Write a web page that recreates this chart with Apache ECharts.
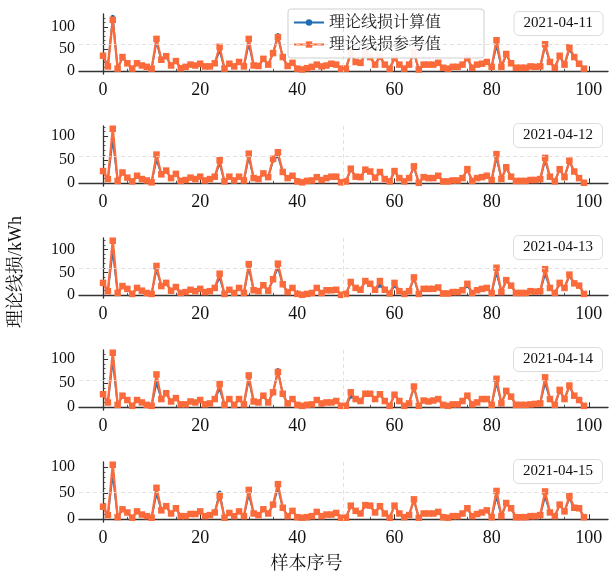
<!DOCTYPE html>
<html><head><meta charset="utf-8">
<script src="https://cdn.jsdelivr.net/npm/echarts@6/dist/echarts.min.js"></script>
<style>html,body{margin:0;padding:0;background:#fff}#c{width:613px;height:578px}</style>
</head><body><div id="c"></div>
<script>
const sampleIdx = [];
for (let i = 0; i < 100; i++) sampleIdx.push(i);
const dates = ['2021-04-11','2021-04-12','2021-04-13','2021-04-14','2021-04-15'];
const seriesNames = ['理论线损计算值','理论线损参考值'];
const xTicks = [0,20,40,60,80,100];
const xMinor = [5,10,15,25,30,35,45,50,55,65,70,75,85,90,95];
const yTicks = [0,50,100];
const yMinor = [10,20,30,40,60,70,80,90,110,120];

const calc1 = [33,12,123,6,30,18,6,17,13,10, 6,66,25,33,13,22,7,10,15,13, 17,11,11,18,46,6,17,11,20,11, 62,13,12,27,15,41,82,30,12,18, 6,4,7,10,15,11,13,17,15,6, 6,40,21,19,38,31,15,32,15,6, 29,15,6,15,41,4,15,15,15,19, 8,6,10,10,15,28,8,15,17,21, 10,58,10,37,18,8,8,8,11,10, 11,56,21,8,34,15,49,31,17,6];
const ref1  = [35,11,116,6,32,18,6,18,13,10, 6,73,26,34,13,23,7,10,15,13, 17,11,11,18,55,6,17,11,21,11, 73,13,12,28,15,41,77,32,12,19, 6,4,7,10,15,11,13,17,15,6, 6,43,21,19,39,32,15,33,15,6, 30,15,6,15,43,4,15,15,15,19, 8,6,10,10,15,30,8,15,17,21, 10,70,10,39,18,8,8,8,11,10, 11,61,21,8,35,15,54,32,17,6];
const calc2 = [25,9,93,5,22,12,4,15,9,6, 2,50,19,26,11,19,5,7,12,9, 14,6,9,14,42,4,14,6,14,6, 55,11,9,20,13,48,58,23,11,16, 4,2,5,6,13,7,11,14,14,2, 4,29,14,13,28,24,12,23,9,4, 25,11,4,11,34,1,13,11,11,16, 4,4,6,6,11,28,5,11,13,16, 7,54,9,32,14,5,5,5,7,7, 9,48,14,4,29,13,46,24,11,1];
const ref2  = [26,9,116,5,23,12,4,16,9,6, 2,61,19,27,11,20,5,7,12,9, 14,6,9,14,49,4,14,6,14,6, 63,11,9,21,13,52,66,24,11,16, 4,2,5,6,13,7,11,14,14,2, 4,31,14,13,29,25,12,24,9,4, 26,11,4,11,36,1,13,11,11,16, 4,4,6,6,11,30,5,11,13,16, 7,62,9,34,14,5,5,5,7,7, 9,54,14,4,30,13,48,25,11,1];
const calc3 = [26,9,96,5,20,14,3,16,10,5, 3,56,20,26,10,18,5,7,12,9, 14,7,9,16,38,3,12,5,16,5, 60,11,9,21,10,34,60,23,7,16, 3,1,3,5,16,5,11,11,12,1, 3,27,16,12,30,24,12,21,12,4, 20,9,3,9,37,3,14,14,14,17, 4,4,7,7,11,20,5,11,14,16, 5,49,7,31,21,5,5,5,9,8, 9,46,16,5,24,16,42,25,21,3];
const ref3  = [27,9,119,5,20,14,3,16,10,5, 3,64,20,27,10,18,5,7,12,9, 14,7,9,16,47,3,12,5,16,5, 68,11,9,22,10,35,69,24,7,16, 3,1,3,5,16,5,11,11,12,1, 3,29,16,12,31,25,12,31,12,4, 27,9,3,9,39,3,14,14,14,17, 4,4,7,7,11,25,5,11,14,16, 5,60,7,33,21,5,5,5,9,8, 9,57,16,5,27,16,45,26,21,3];
const calc4 = [26,10,96,5,23,15,3,15,10,5, 3,50,17,28,12,19,6,6,12,10, 15,6,8,17,38,5,17,5,17,6, 57,12,10,23,10,30,77,27,8,17, 5,3,5,6,15,8,10,10,13,3, 3,22,17,13,27,27,17,26,13,3, 25,13,3,8,41,3,14,12,14,17, 5,3,6,6,13,23,6,10,17,17, 5,50,8,32,22,5,5,5,6,7, 8,50,17,5,34,17,43,23,15,3];
const ref4  = [27,10,113,5,24,15,3,15,10,5, 3,68,17,29,12,19,6,6,12,10, 15,6,8,17,48,5,17,5,17,6, 66,12,10,24,10,31,73,28,8,17, 5,3,5,6,15,8,10,10,13,3, 3,31,17,13,28,28,17,27,13,3, 26,13,3,8,43,3,14,12,14,17, 5,3,6,6,13,24,6,10,17,17, 5,59,8,34,22,5,5,5,6,7, 8,62,17,5,36,17,45,24,15,3];
const calc5 = [23,8,85,4,19,13,3,15,9,6, 3,49,17,24,11,20,6,6,10,10, 15,6,8,13,51,3,12,6,15,6, 47,11,8,19,11,27,59,22,6,16, 4,3,4,6,14,6,9,9,12,3, 3,24,16,11,26,25,13,24,11,3, 25,11,4,8,36,3,11,11,11,14, 4,3,6,6,11,20,6,10,13,17, 4,43,6,29,21,4,4,4,6,6, 8,43,13,6,27,15,40,21,21,4];
const ref5  = [24,8,104,4,19,13,3,15,9,6, 3,60,17,25,11,21,6,6,10,10, 15,6,8,13,45,3,12,6,15,6, 56,11,8,19,11,28,67,22,6,16, 4,3,4,6,14,6,9,9,12,3, 3,26,16,11,27,26,13,25,11,3, 26,11,4,8,38,3,11,11,11,14, 4,3,6,6,11,21,6,10,13,17, 4,54,6,31,21,4,4,4,6,6, 8,53,13,6,28,15,44,22,21,4];

const calcAll = [calc1, calc2, calc3, calc4, calc5];
const refAll = [ref1, ref2, ref3, ref4, ref5];

const BLUE = '#1f6db3', ORANGE = '#fa6a3a';
const FONT = "'Liberation Serif', 'Noto Serif CJK SC', 'Noto Sans CJK SC', serif";
const AXC = '#333';

const grids = [], xAxes = [], yAxes = [], series = [], titles = [];
const xMin = -4.95, xMax = 103.95;
for (let p = 0; p < 5; p++) {
  const top = 14 + 112 * p;
  grids.push({left: 79, top: top, width: 529, height: 60});
  const m = Math.max(Math.max.apply(null, calcAll[p]), Math.max.apply(null, refAll[p]));
  const yMin = -0.05 * m, yMax = 1.05 * m;
  xAxes.push({type: 'value', gridIndex: p, position: 'bottom', min: xMin, max: xMax,
    axisLine: {show: true, lineStyle: {color: AXC, width: 1.3}},
    axisTick: {show: true, inside: true, length: 5, customValues: xTicks, lineStyle: {color: AXC, width: 1}},
    axisLabel: {show: true, customValues: xTicks, fontSize: 18, fontFamily: FONT, color: '#111', margin: 7},
    splitLine: {show: false}});
  xAxes.push({type: 'value', gridIndex: p, position: 'bottom', min: xMin, max: xMax,
    axisLine: {show: false},
    axisTick: {show: true, inside: true, length: 2.5, customValues: xMinor, lineStyle: {color: AXC, width: 0.8}},
    axisLabel: {show: false}, splitLine: {show: false}});
  yAxes.push({type: 'value', gridIndex: p, position: 'left', min: yMin, max: yMax,
    axisLine: {show: true, lineStyle: {color: AXC, width: 1.3}},
    axisTick: {show: true, inside: true, length: 5, customValues: yTicks.filter(v => v <= yMax), lineStyle: {color: AXC, width: 1}},
    axisLabel: {show: true, customValues: yTicks.filter(v => v <= yMax), fontSize: 16, fontFamily: FONT, color: '#111', margin: 4},
    splitLine: {show: false}});
  yAxes.push({type: 'value', gridIndex: p, position: 'left', min: yMin, max: yMax,
    axisLine: {show: false},
    axisTick: {show: true, inside: true, length: 2.5, customValues: yMinor.filter(v => v <= yMax), lineStyle: {color: AXC, width: 0.8}},
    axisLabel: {show: false}, splitLine: {show: false}});
  series.push({name: seriesNames[0], type: 'line', xAxisIndex: 2 * p, yAxisIndex: 2 * p,
    data: calcAll[p].map((v, i) => [sampleIdx[i], v]),
    symbol: 'circle', symbolSize: 4, showSymbol: true,
    lineStyle: {color: BLUE, width: 1.8}, itemStyle: {color: BLUE},
    markLine: {silent: true, symbol: 'none', label: {show: false},
      lineStyle: {type: [4, 3], color: '#dadada', width: 0.8},
      data: [{xAxis: (xMin + xMax) / 2}, {yAxis: (yMin + yMax) / 2}]},
    z: 2});
  series.push({name: seriesNames[1], type: 'line', xAxisIndex: 2 * p, yAxisIndex: 2 * p,
    data: refAll[p].map((v, i) => [sampleIdx[i], v]),
    symbol: 'rect', symbolSize: 6.5, showSymbol: true,
    lineStyle: {color: ORANGE, width: 2.3, type: 'solid'}, itemStyle: {color: ORANGE},
    z: 3});
  titles.push({text: dates[p], right: 10, top: top - 3,
    textStyle: {fontSize: 15, fontWeight: 'normal', fontFamily: FONT, color: '#111'},
    padding: [5, 10], borderColor: '#dcdcdc', borderWidth: 1, borderRadius: 5, backgroundColor: '#fff'});
}

const chart = echarts.init(document.getElementById('c'), null, {renderer: 'canvas'});
chart.setOption({
  animation: false,
  backgroundColor: '#fff',
  title: titles,
  legend: {data: seriesNames, orient: 'vertical', left: 288, top: 9,
    itemWidth: 30, itemHeight: 8, itemGap: 3, padding: [4, 5],
    borderColor: '#cfcfcf', borderWidth: 1, borderRadius: 3, backgroundColor: 'rgba(255,255,255,0.92)',
    textStyle: {fontSize: 16, fontFamily: FONT, color: '#222', width: 150, lineHeight: 19}},
  grid: grids, xAxis: xAxes, yAxis: yAxes, series: series,
  graphic: [
    {type: 'text', left: 'center', x: 0, top: 555,
      style: {text: '样本序号', fontSize: 18, fontFamily: FONT, fill: '#111'}},
    {type: 'text', x: 16, y: 272, rotation: Math.PI / 2,
      style: {text: '理论线损/kWh', fontSize: 18, fontFamily: FONT, fill: '#111', align: 'center', verticalAlign: 'middle'}}
  ]
});
</script></body></html>
